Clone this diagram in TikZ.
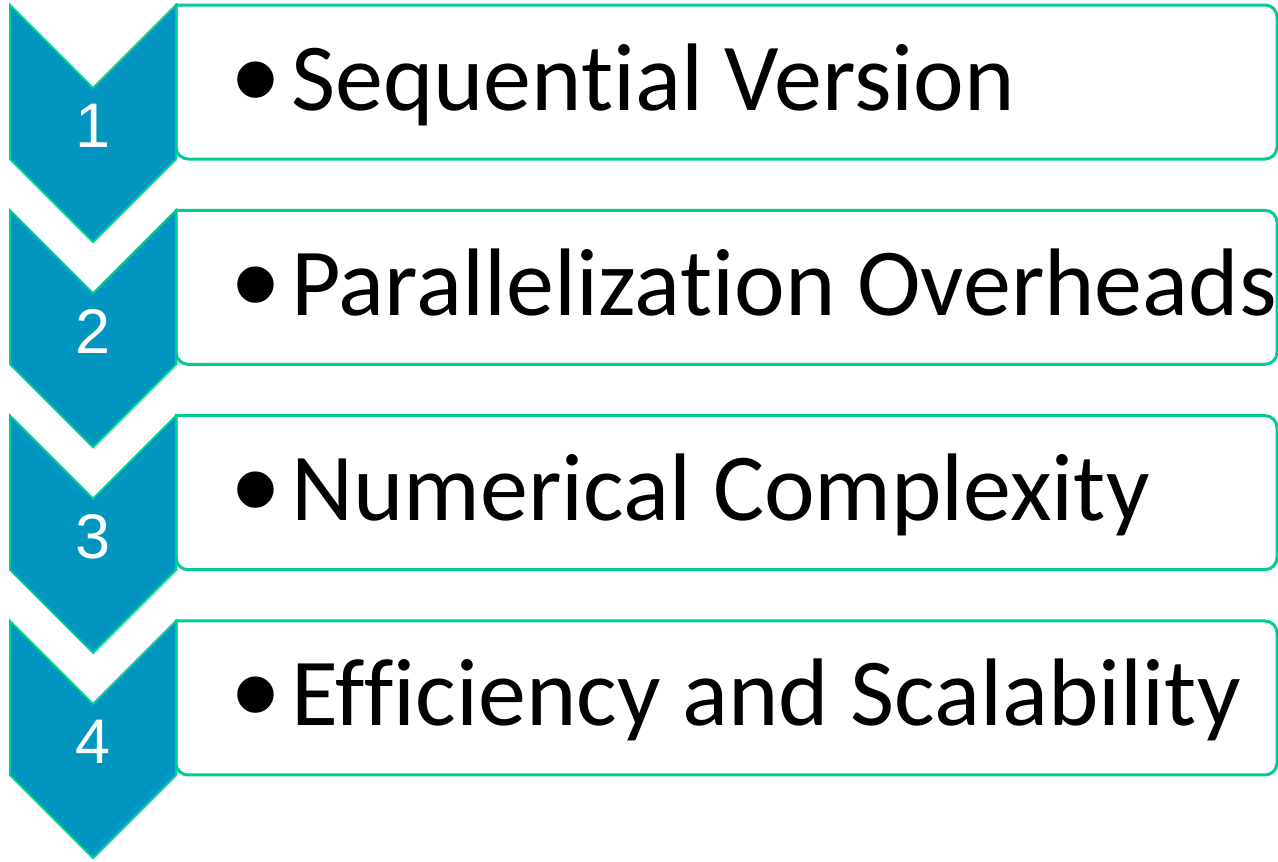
\documentclass[tikz,border=0pt]{standalone}
\usepackage{fontspec}
\setmainfont{Carlito}[Ligatures=NoCommon]
\newfontfamily\arialf{Liberation Sans}
\usetikzlibrary{shadows}
\definecolor{chevblue}{HTML}{0096C0}
\definecolor{edgegreen}{HTML}{00CC96}
\newcommand{\nolig}{\kern0pt}
\tikzset{
  chevron/.style={fill=chevblue, draw=edgegreen, line width=2pt, line join=miter,
    drop shadow={opacity=0.22, shadow xshift=1.5pt, shadow yshift=-2.5pt}},
  itembox/.style={fill=white, draw=edgegreen, line width=3pt},
  numlabel/.style={text=white, font=\arialf\fontsize{63}{70}\selectfont, inner sep=0pt},
  bulletmark/.style={anchor=base west, inner sep=0pt, font=\arialf\fontsize{134}{140}\selectfont, text=black},
  itemtext/.style={anchor=base west, inner sep=0pt, font=\fontsize{96}{110}\selectfont, text=black},
}
\begin{document}
\begin{tikzpicture}[x=1pt, y=-1pt]
\useasboundingbox[fill=white] (0,0) rectangle (1278,862);
\foreach \i/\txt in {1/Sequent\nolig ial Version, 2/Paralleliza\nolig t\nolig ion Overheads, 3/Numerical Complexity, 4/Ef\nolig f\nolig iciency and Scalability}{
  \pgfmathsetmacro{\T}{5+205.33*(\i-1)}
  \path[itembox, rounded corners=12pt] (176,\T) -- (1277,\T) -- (1277,\T+154) -- (176,\T+154) [sharp corners] -- cycle;
  \path[chevron] (10,\T) -- (93,\T+83) -- (176,\T) -- (176,\T+154) -- (93,\T+237) -- (10,\T+154) -- cycle;
  \node[numlabel] (num\i) at (93,\T+121) {\i};
  \node[bulletmark] (bul\i) at (232,\T+119) {•};
  \node[itemtext] (item\i) at (291,\T+105) {\txt};
}
\end{tikzpicture}
\end{document}
